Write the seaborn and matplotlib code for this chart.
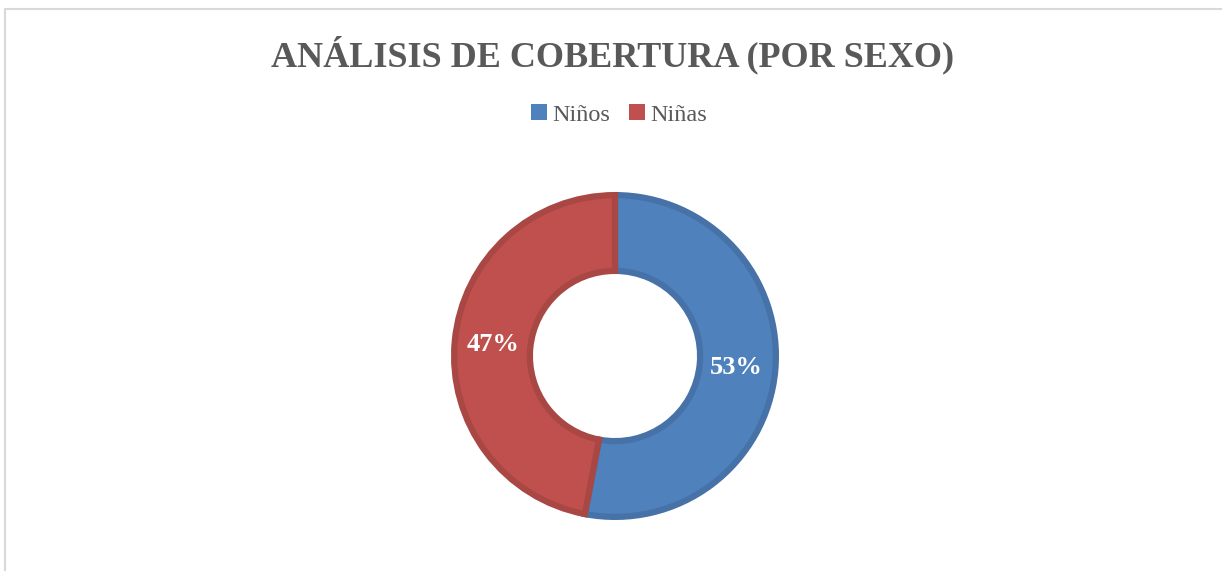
import matplotlib
matplotlib.use("Agg")
import matplotlib.pyplot as plt
import seaborn as sns
from matplotlib.lines import Line2D
from matplotlib.patches import Patch

categories = ["Niños", "Niñas"]
values = [53, 47]
title = "ANÁLISIS DE COBERTURA (POR SEXO)"

sns.set_theme(style="white")
plt.rcParams['font.family'] = ['Liberation Serif', 'DejaVu Serif']

face = ["#4F81BD", "#C0504D"]
edge = ["#4672A8", "#A94744"]

W, H = 1222, 571
fig = plt.figure(figsize=(W / 100, H / 100), dpi=100)
fig.patch.set_facecolor("white")

cx, cy, half = 615, 356, 172
ax = fig.add_axes([(cx - half) / W, (H - cy - half) / H, 2 * half / W, 2 * half / H])
lim = half / 164
wedges, texts, autotexts = ax.pie(
    values, colors=face, startangle=90, counterclock=False, radius=0.981,
    wedgeprops=dict(width=0.462, linewidth=4.5, edgecolor="none"),
    autopct=lambda p: f"{p:.0f}%", pctdistance=0.76,
    textprops=dict(color="white", fontsize=19, fontweight="bold"))
for w, e in zip(wedges, edge):
    w.set_edgecolor(e)
ax.set_xlim(-lim, lim)
ax.set_ylim(-lim, lim)
ax.set_aspect("equal")
ax.axis("off")

fig.text(613 / W, 1 - 55 / H, title, ha="center", va="center",
         fontsize=26, fontweight="bold", color="#595959")

handles = [Patch(facecolor=c, edgecolor="none") for c in face]
fig.legend(handles, categories, loc="center", bbox_to_anchor=(619 / W, 1 - 115 / H),
           ncol=2, frameon=False, fontsize=17.5, handlelength=0.65, handleheight=0.65,
           handletextpad=0.2, columnspacing=0.8, labelcolor="#595959")

fig.add_artist(Line2D([5 / W, 1], [1 - 9 / H, 1 - 9 / H], transform=fig.transFigure,
                      color="#D9D9D9", linewidth=1.5))
fig.add_artist(Line2D([5 / W, 5 / W], [0, 1 - 9 / H], transform=fig.transFigure,
                      color="#D9D9D9", linewidth=1.5))

fig.savefig("out.png", dpi=100, facecolor="white")
